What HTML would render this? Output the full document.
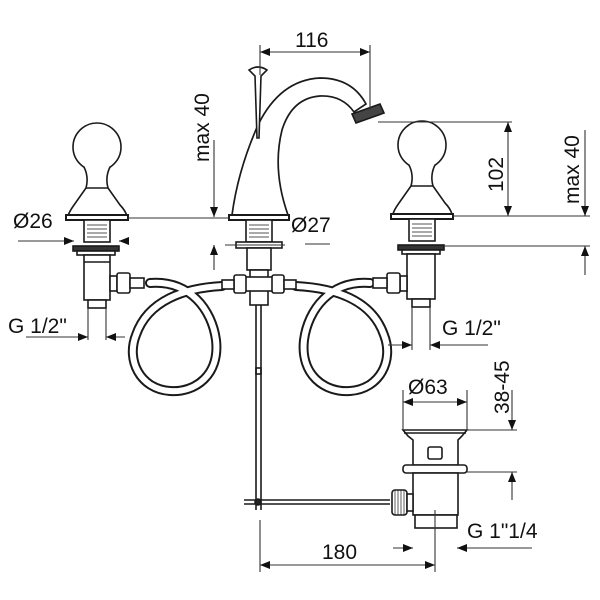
<!DOCTYPE html>
<html><head><style>
html,body{margin:0;padding:0;background:#fff;}
svg{display:block}
text{font-family:"Liberation Sans",sans-serif;fill:#111;}
</style></head><body>
<svg width="600" height="600" viewBox="0 0 600 600" xmlns="http://www.w3.org/2000/svg">
<defs>
<marker id="ar" markerWidth="10" markerHeight="8" refX="10" refY="4" orient="auto-start-reverse" markerUnits="userSpaceOnUse">
<path d="M0,0 L10,4 L0,8 z" fill="#111"/></marker>
</defs>
<g fill="none" stroke="#1a1a1a" stroke-width="1.6">
<g stroke-linecap="round">
<path d="M150,283 C190,280 212,310 216,340 C220,375 195,393 170,391 C140,389 126,360 136,335 C148,300 185,288 222,286" stroke="#1a1a1a" stroke-width="10"/>
<path d="M150,283 C190,280 212,310 216,340 C220,375 195,393 170,391 C140,389 126,360 136,335 C148,300 185,288 222,286" stroke="#fff" stroke-width="6"/>
<path d="M370,283 C330,280 308,310 304,340 C300,375 325,393 350,391 C380,389 394,360 384,335 C372,300 335,288 296,286" stroke="#1a1a1a" stroke-width="10"/>
<path d="M370,283 C330,280 308,310 304,340 C300,375 325,393 350,391 C380,389 394,360 384,335 C372,300 335,288 296,286" stroke="#fff" stroke-width="6"/>
</g>
<!-- left valve -->
<circle cx="97" cy="147" r="24" fill="#fff"/>
<path d="M84,167 Q89,177 86,188 L74,205 Q69,212 68,216 L127,216 Q125,210 120,205 L108,188 Q105,177 110,167" fill="#fff"/>
<line x1="86" y1="188" x2="108" y2="188"/>
<rect x="66" y="215" width="62" height="5" fill="#fff" stroke-width="2"/>
<rect x="84" y="220" width="26" height="22" fill="#fff"/>
<g stroke-width="0.8"><line x1="87" y1="225" x2="107" y2="225"/><line x1="87" y1="229" x2="107" y2="229"/><line x1="87" y1="233" x2="107" y2="233"/><line x1="87" y1="237" x2="107" y2="237"/></g>
<rect x="73" y="246" width="46" height="5" fill="#333"/>
<rect x="77" y="251" width="38" height="4" fill="#fff"/>
<rect x="84" y="255" width="26" height="45" fill="#fff"/>
<line x1="84" y1="262" x2="110" y2="262"/>
<rect x="88" y="300" width="18" height="8" fill="#fff"/>
<rect x="110" y="276" width="7" height="15" fill="#fff"/>
<rect x="117" y="273" width="13" height="20" fill="#fff" rx="2"/>
<rect x="130" y="278" width="14" height="10" fill="#fff"/>
<!-- right valve -->
<circle cx="422" cy="145" r="24" fill="#fff"/>
<path d="M409,165 Q414,175 411,186 L399,203 Q394,210 393,214 L452,214 Q450,208 445,203 L433,186 Q430,175 435,165" fill="#fff"/>
<line x1="411" y1="186" x2="433" y2="186"/>
<rect x="391" y="214" width="62" height="5" fill="#fff" stroke-width="2"/>
<rect x="409" y="219" width="26" height="22" fill="#fff"/>
<g stroke-width="0.8"><line x1="412" y1="224" x2="432" y2="224"/><line x1="412" y1="228" x2="432" y2="228"/><line x1="412" y1="232" x2="432" y2="232"/><line x1="412" y1="236" x2="432" y2="236"/></g>
<rect x="398" y="245" width="46" height="5" fill="#333"/>
<rect x="402" y="250" width="38" height="4" fill="#fff"/>
<rect x="407" y="254" width="28" height="45" fill="#fff"/>
<rect x="412" y="299" width="18" height="8" fill="#fff"/>
<rect x="400" y="276" width="7" height="15" fill="#fff"/>
<rect x="387" y="273" width="13" height="20" fill="#fff" rx="2"/>
<rect x="373" y="278" width="14" height="10" fill="#fff"/>
<!-- spout -->
<path d="M232,215 Q238,170 258,125 Q280,80 320,78 Q352,78 366,104 L354,112 Q342,95 320,96 Q292,98 282,130 Q272,170 288,215 Z" fill="#fff" stroke-width="1.7"/>
<path d="M352,114 L380,104 L384,113 L356,123 Z" fill="#444"/>
<path d="M249,70 Q258,64 267,70 L261,76 L259,138 L257,138 L255,76 Z" fill="#fff"/>
<rect x="229" y="215" width="60" height="5" fill="#fff" stroke-width="2"/>
<rect x="246" y="220" width="26" height="22" fill="#fff"/>
<g stroke-width="0.8"><line x1="249" y1="225" x2="269" y2="225"/><line x1="249" y1="229" x2="269" y2="229"/><line x1="249" y1="233" x2="269" y2="233"/><line x1="249" y1="237" x2="269" y2="237"/></g>
<rect x="236" y="242" width="46" height="6" fill="#fff"/>
<rect x="247" y="248" width="24" height="22" fill="#fff"/>
<rect x="250" y="270" width="18" height="35" fill="#fff"/>
<rect x="236" y="277" width="46" height="14" fill="#fff"/>
<rect x="234" y="275" width="12" height="18" rx="2" fill="#fff"/>
<rect x="272" y="275" width="12" height="18" rx="2" fill="#fff"/>
<rect x="222" y="280" width="12" height="9" fill="#fff"/>
<rect x="284" y="280" width="12" height="9" fill="#fff"/>
<line x1="256" y1="305" x2="256" y2="510"/><line x1="261" y1="305" x2="261" y2="510"/>
<rect x="256" y="368" width="5" height="6"/>
<line x1="244" y1="500" x2="390" y2="500"/><line x1="244" y1="504" x2="390" y2="504"/>
<circle cx="258" cy="502" r="3" fill="#222"/>
<!-- drain -->
<path d="M403,430 L467,430 L462,436 L458,440 L458,465 L413,465 L413,440 L408,436 Z" fill="#fff"/>
<line x1="404" y1="433" x2="466" y2="433"/>
<rect x="428" y="447" width="14" height="12" rx="2"/>
<rect x="403" y="465" width="64" height="8" rx="3" fill="#fff"/>
<rect x="413" y="473" width="45" height="42" fill="#fff"/>
<rect x="415" y="515" width="42" height="13" fill="#fff"/>
<rect x="392" y="490" width="15" height="25" rx="3" fill="#fff"/>
<g stroke-width="0.7"><line x1="395" y1="490" x2="395" y2="515"/><line x1="398" y1="490" x2="398" y2="515"/><line x1="401" y1="490" x2="401" y2="515"/><line x1="404" y1="490" x2="404" y2="515"/></g>
<rect x="407" y="494" width="6" height="17" fill="#fff"/>
</g>
<g stroke="#333" stroke-width="1.1" fill="none">
<line x1="260" y1="52" x2="370" y2="52" marker-start="url(#ar)" marker-end="url(#ar)"/>
<line x1="260" y1="45" x2="260" y2="75"/><line x1="370" y1="45" x2="370" y2="110"/>
<line x1="378" y1="122" x2="512" y2="122"/>
<line x1="508" y1="122" x2="508" y2="216" marker-start="url(#ar)" marker-end="url(#ar)"/>
<line x1="453" y1="216" x2="590" y2="216"/>
<line x1="128" y1="218" x2="229" y2="218"/>
<line x1="214" y1="140" x2="214" y2="217" marker-end="url(#ar)"/>
<line x1="214" y1="270" x2="214" y2="245" marker-end="url(#ar)"/>
<line x1="225" y1="245" x2="285" y2="245"/>
<line x1="585" y1="130" x2="585" y2="216" marker-end="url(#ar)"/>
<line x1="585" y1="275" x2="585" y2="246" marker-end="url(#ar)"/>
<line x1="444" y1="246" x2="590" y2="246"/>
<line x1="18" y1="241" x2="74" y2="241" marker-end="url(#ar)"/>
<line x1="128" y1="241" x2="119" y2="241" marker-end="url(#ar)"/>
<line x1="26" y1="337" x2="88" y2="337" marker-end="url(#ar)"/>
<line x1="125" y1="337" x2="106" y2="337" marker-end="url(#ar)"/>
<line x1="88" y1="308" x2="88" y2="340"/><line x1="106" y1="308" x2="106" y2="340"/>
<line x1="305" y1="244" x2="330" y2="244"/>
<line x1="388" y1="345" x2="412" y2="345" marker-end="url(#ar)"/>
<line x1="488" y1="345" x2="430" y2="345" marker-end="url(#ar)"/>
<line x1="412" y1="307" x2="412" y2="350"/><line x1="430" y1="307" x2="430" y2="350"/>
<line x1="403" y1="390" x2="403" y2="430"/><line x1="467" y1="390" x2="467" y2="430"/>
<line x1="403" y1="402" x2="467" y2="402" marker-start="url(#ar)" marker-end="url(#ar)"/>
<line x1="467" y1="430" x2="517" y2="430"/><line x1="467" y1="472" x2="517" y2="472"/>
<line x1="512" y1="390" x2="512" y2="430" marker-end="url(#ar)"/>
<line x1="512" y1="500" x2="512" y2="472" marker-end="url(#ar)"/>
<line x1="260" y1="520" x2="260" y2="572"/><line x1="435" y1="510" x2="435" y2="572"/>
<line x1="260" y1="565" x2="435" y2="565" marker-start="url(#ar)" marker-end="url(#ar)"/>
<line x1="393" y1="548" x2="413" y2="548" marker-end="url(#ar)"/>
<line x1="532" y1="548" x2="457" y2="548" marker-end="url(#ar)"/>
</g>
<g font-size="21">
<text x="295" y="47">116</text>
<text x="13" y="228">Ø26</text>
<text x="291" y="232">Ø27</text>
<text x="8" y="333">G 1/2"</text>
<text x="442" y="335">G 1/2"</text>
<text x="408" y="394">Ø63</text>
<text x="322" y="559">180</text>
<text x="467" y="538">G 1"1/4</text>
<text transform="translate(209,162) rotate(-90)">max 40</text>
<text transform="translate(503,192) rotate(-90)">102</text>
<text transform="translate(579,204) rotate(-90)">max 40</text>
<text transform="translate(509,414) rotate(-90)">38-45</text>
</g>
</svg>
</body></html>
